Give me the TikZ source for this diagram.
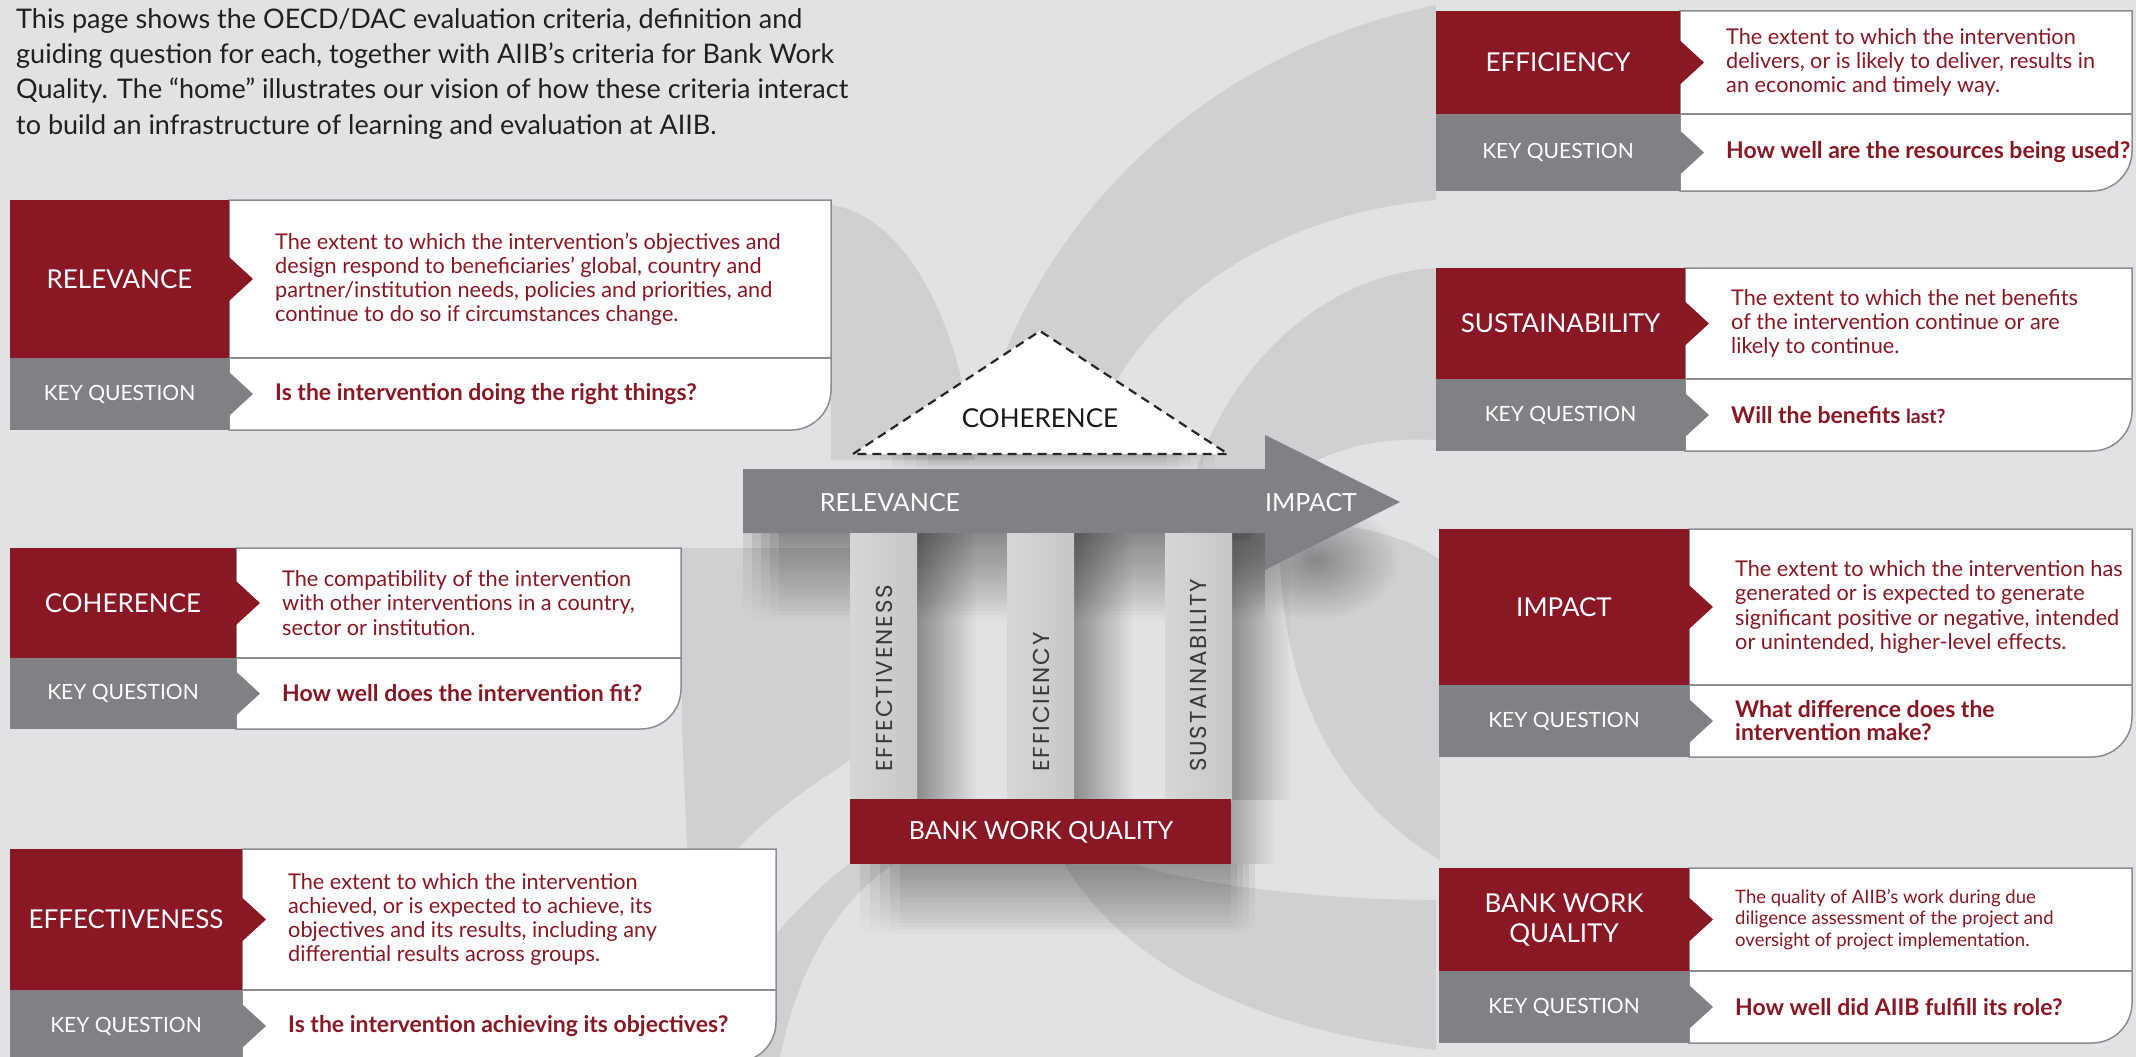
\documentclass[tikz,border=0pt]{standalone}
\usepackage{fontspec}
\setmainfont{Lato}
\newfontfamily\pillarfont{Poppins}[LetterSpace=8]
\usetikzlibrary{fadings}
\tikzfading[name=fdown, top color=transparent!0, bottom color=transparent!100]
\tikzfading[name=fright, left color=transparent!0, right color=transparent!100]
\tikzfading[name=fblob, inner color=transparent!0, outer color=transparent!100]
\definecolor{aiibred}{HTML}{8A1824}
\definecolor{kqgray}{HTML}{808184}
\definecolor{bggray}{HTML}{E1E2E4}
\definecolor{petal}{HTML}{CFD0D2}
\definecolor{linegray}{HTML}{8C8D90}
\definecolor{introtext}{HTML}{231F20}
\newcommand\descfont{\fontsize{21.7}{24.1}\selectfont}
\tikzset{
  lbl/.style={text=white, font=\fontsize{26}{30}\selectfont, align=center, inner sep=0},
  kq/.style={text=white, font=\fontsize{21}{25}\selectfont, inner sep=0},
  desc/.style={text=aiibred, font=\descfont, align=left, anchor=west, inner sep=0},
  ques/.style={text=aiibred, font=\bfseries\fontsize{23}{23}\selectfont, align=left, anchor=west, inner sep=0},
  pill/.style={text=black!78, font=\pillarfont\fontsize{23}{26}\selectfont, inner sep=0, rotate=90, anchor=west},
  house/.style={text=white, font=\fontsize{25}{29}\selectfont, inner sep=0},
  petalfill/.style={fill=petal},
  shadowdown/.style={fill=black, fill opacity=#1, path fading=fdown},
  shadowright/.style={fill=black, fill opacity=#1, path fading=fright},
  shadowblob/.style={fill=black, fill opacity=#1, path fading=fblob},
}
% soft downward shadow: x0 y0 x1 y1 total-opacity left-inset right-inset (per layer)
\newcommand\softdown[7]{%
  \pgfmathsetmacro\sdop{#5/5}%
  \foreach \i in {0,...,4}{%
    \fill[shadowdown=\sdop] (#1+\i*#6,#2) rectangle (#3-\i*#7,#4);
  }%
}
\newcommand\cn{x}
% #1 x0 #2 xs #3 xr #4 y0 #5 ym #6 y1 #7 label #8 desc #9 question
\newcommand\mycard[9]{%
  \pgfmathsetmacro\yc{(#4+#5)/2}%
  \pgfmathsetmacro\yq{(#5+#6)/2}%
  \pgfmathsetmacro\xc{(#1+#2)/2}%
  \filldraw[fill=white, draw=linegray, line width=1.5] (#2,#4) -- (#3,#4) -- (#3,#6-40) .. controls (#3,#6-18) and (#3-18,#6) .. (#3-40,#6) -- (#2,#6) -- cycle;
  \draw[linegray, line width=1.5] (#2,#5) -- (#3,#5);
  \fill[aiibred] (#1,#4) rectangle (#2,#5);
  \fill[aiibred] (#2,\yc-22) -- (#2+24,\yc) -- (#2,\yc+22) -- cycle;
  \fill[kqgray] (#1,#5) rectangle (#2,#6);
  \fill[kqgray] (#2,\yq-22) -- (#2+24,\yq) -- (#2,\yq+22) -- cycle;
  \node[lbl] (\cn-l) at (\xc,\yc) {#7};
  \node[kq] (\cn-k) at (\xc,\yq) {KEY QUESTION};
  \node[desc] (\cn-d) at (#2+46,\yc) {#8};
  \node[ques] (\cn-q) at (#2+46,\yq) {#9};
}
\begin{document}
\begin{tikzpicture}[x=1pt, y=-1pt]
\useasboundingbox (0,0) rectangle (2136,1057);
\fill[bggray] (0,0) rectangle (2136,1057);

% background petals
\fill[petalfill] (975,455) .. controls (1010,260) and (1170,60) .. (1436,5) -- (1436,200) .. controls (1260,215) and (1120,320) .. (1085,455) -- cycle;
\fill[petalfill] (1180,540) .. controls (1200,390) and (1310,275) .. (1436,268) -- (1436,440) .. controls (1340,435) and (1270,470) .. (1250,540) -- cycle;
\fill[petalfill] (1260,520) .. controls (1330,520) and (1400,530) .. (1440,560) -- (1440,860) .. controls (1340,800) and (1285,700) .. (1280,560) -- cycle;
\fill[petalfill] (1064,863) .. controls (1120,960) and (1250,1030) .. (1436,1050) -- (1436,900) .. controls (1300,900) and (1180,880) .. (1130,863) -- cycle;
\fill[petalfill] (780,1057) .. controls (800,960) and (840,900) .. (895,863) -- (850,863) .. controls (800,900) and (720,990) .. (700,1057) -- cycle;
\fill[petalfill] (682,548) -- (850,548) -- (850,760) .. controls (790,800) and (730,840) .. (690,915) -- (682,730) -- cycle;
\fill[petalfill] (831,205) .. controls (900,215) and (960,310) .. (975,460) -- (831,460) -- cycle;

% left cards
\renewcommand\cn{rel}
\mycard{10}{229}{831}{200}{358}{430}{RELEVANCE}{The extent to which the intervention’s objectives and\\design respond to beneficiaries’ global, country and\\partner/institution needs, policies and priorities, and\\continue to do so if circumstances change.}{Is the intervention doing the right things?}
\renewcommand\cn{coh}
\mycard{10}{236}{681}{548}{658}{729}{COHERENCE}{The compatibility of the intervention\\with other interventions in a country,\\sector or institution.}{How well does the intervention fit?}
\renewcommand\cn{eff}
\mycard{10}{242}{776}{849}{990}{1062}{EFFECTIVENESS}{The extent to which the intervention\\achieved, or is expected to achieve, its\\objectives and its results, including any\\differential results across groups.}{Is the intervention achieving its objectives?}

% right cards
\renewcommand\cn{effi}
\mycard{1436}{1680}{2132}{11}{114}{191}{EFFICIENCY}{The extent to which the intervention\\delivers, or is likely to deliver, results in\\an economic and timely way.}{How well are the resources being used?}
\renewcommand\cn{sus}
\mycard{1436}{1685}{2132}{268}{379}{451}{SUSTAINABILITY}{The extent to which the net benefits\\of the intervention continue or are\\likely to continue.}{Will the benefits {\fontsize{19.5}{22}\selectfont last?}}
\renewcommand\cn{imp}
\mycard{1439}{1689}{2132}{529}{685}{757}{IMPACT}{The extent to which the intervention has\\generated or is expected to generate\\significant positive or negative, intended\\or unintended, higher-level effects.}{What difference does the\\intervention make?}
\renewcommand\cn{bwq}
\renewcommand\descfont{\fontsize{18.5}{21.8}\selectfont}
\mycard{1439}{1689}{2132}{868}{971}{1043}{BANK WORK\\QUALITY}{The quality of AIIB’s work during due\\diligence assessment of the project and\\oversight of project implementation.}{How well did AIIB fulfill its role?}

% intro text
\node[anchor=north west, inner sep=0, align=left, text=introtext, font=\fontsize{27}{35.4}\selectfont] (intro) at (16,8)
{This page shows the OECD/DAC evaluation criteria, definition and\\guiding question for each, together with AIIB’s criteria for Bank Work\\Quality. The “home” illustrates our vision of how these criteria interact\\to build an infrastructure of learning and evaluation at AIIB.};

% soft shadows of the house
\softdown{880}{454}{1215}{472}{0.25}{12}{12}
\softdown{743}{533}{1265}{620}{0.45}{9}{0}
\fill[shadowblob=0.35] (1315,560) ellipse [x radius=85, y radius=60];
\foreach \px in {917, 1073, 1231}{
  \fill[shadowright=0.38] (\px,533) rectangle (\px+60,800);
}
\softdown{860}{864}{1255}{935}{0.4}{10}{6}
\fill[shadowright=0.28] (1231,800) rectangle (1275,864);

% house: triangle roof
\filldraw[fill=white, draw=black!85, line width=2.2, dash pattern=on 9pt off 6pt]
  (853,454) -- (1040,331) -- (1228,454) -- cycle;
\node[inner sep=0, text=black!90, font=\fontsize{26}{29}\selectfont] (roof) at (1040,418) {COHERENCE};

% arrow
\fill[kqgray] (743,469) -- (1265,469) -- (1265,435) -- (1400,502) -- (1265,570) -- (1265,533) -- (743,533) -- cycle;
\node[house] (arrrel) at (890,503) {RELEVANCE};
\node[house] (arrimp) at (1311,503) {IMPACT};

% pillars
\foreach \px in {850, 1007, 1165}{
  \fill[left color=black!16, right color=black!22] (\px,533) rectangle (\px+67,800);
}
\node[pill] (p1t) at (884,772) {EFFECTIVENESS};
\node[pill] (p2t) at (1041,772) {EFFICIENCY};
\node[pill] (p3t) at (1198,772) {SUSTAINABILITY};

% base
\fill[aiibred] (850,799) rectangle (1231,864);
\node[house] (basetxt) at (1041,832) {BANK WORK QUALITY};
\end{tikzpicture}
\end{document}
